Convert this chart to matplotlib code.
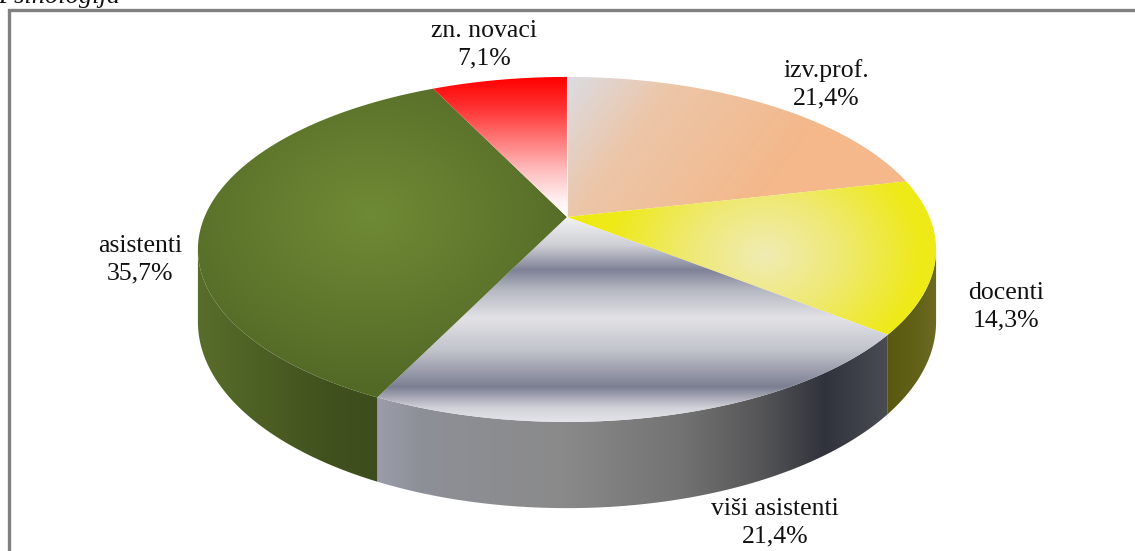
import numpy as np
import matplotlib
matplotlib.use("Agg")
import matplotlib.pyplot as plt
from matplotlib.path import Path
from matplotlib.patches import PathPatch
from matplotlib.colors import to_rgb

# ---------------- data ----------------
title = "Psihologija"
categories = ["izv.prof.", "docenti", "viši asistenti", "asistenti", "zn. novaci"]
shares = [21.4, 14.3, 21.4, 35.7, 7.1]

# ---------------- layout ----------------
W, H = 1135, 551
CX, CY = 567.0, 217.0      # pie centre on screen (px)
A, B = 362.5, 166.4        # horizontal / vertical radii
P = 0.188                  # perspective strength
D = 70.0                   # extrusion depth
label_pos = [(826, 84), (1006, 307), (775, 523), (140, 260), (484, 45)]
FONT = ["Liberation Serif", "DejaVu Serif"]

fig = plt.figure(figsize=(W / 100, H / 100), dpi=100)
ax = fig.add_axes([0, 0, 1, 1])
ax.set_xlim(0, W)
ax.set_ylim(H, 0)
ax.axis("off")


def proj(phi):
    x = np.sin(phi)
    y = -np.cos(phi)
    w = 1 - P * y
    return CX + A * x / w, CY + B * y / w, w


def ramp(v, stops):
    pos = np.array([s[0] for s in stops], float)
    cols = np.array([to_rgb(s[1]) for s in stops])
    out = np.empty(v.shape + (3,))
    for c in range(3):
        out[..., c] = np.interp(v, pos, cols[:, c])
    return out


def grad_fill(xs, ys, func, z):
    verts = np.column_stack([xs, ys])
    path = Path(np.vstack([verts, verts[:1]]), closed=True)
    patch = PathPatch(path, facecolor="none", edgecolor="none", zorder=z)
    ax.add_patch(patch)
    x0, x1 = np.floor(xs.min()) - 1, np.ceil(xs.max()) + 1
    y0, y1 = np.floor(ys.min()) - 1, np.ceil(ys.max()) + 1
    X, Y = np.meshgrid(np.arange(x0, x1) + 0.5, np.arange(y0, y1) + 0.5)
    img = func(X, Y)
    im = ax.imshow(img, extent=(x0, x1, y1, y0), origin="upper",
                   interpolation="bilinear", zorder=z, aspect="auto")
    im.set_clip_path(patch)


# gradient definitions per slice (top face, side face)
def top_izv(X, Y):
    t = ((X - 560) * 0.8 + (Y - 80) * 0.6) / 230.0
    return ramp(t, [(0, "#dadde6"), (0.4, "#ecc6a8"), (1, "#f4b88a")])


def top_doc(X, Y):
    r = np.hypot((X - 765) / 1.3, Y - 255)
    return ramp(r, [(0, "#f0ecb4"), (55, "#efe978"), (120, "#eeea18"), (400, "#eeea00")])


def top_visi(X, Y):
    return ramp(Y, [(217, "#f2f2f4"), (245, "#cfd0d6"), (270, "#7f8297"),
                    (290, "#b6b8c2"), (318, "#e2e2e6"), (350, "#c2c4cc"),
                    (387, "#7c7f92"), (408, "#d2d3da"), (425, "#e8e8ec")])


def top_asis(X, Y):
    r = np.hypot(X - 370, (Y - 215) * 1.3)
    return ramp(r, [(0, "#6f8a36"), (120, "#61792d"), (220, "#536a27"), (400, "#4e6224")])


def top_nov(X, Y):
    return ramp(Y, [(78, "#ff0000"), (110, "#ff3636"), (140, "#ff7a7a"),
                    (170, "#ffbdbd"), (200, "#fff0f0"), (217, "#ffffff")])


def side_doc(X, Y):
    return ramp(X, [(880, "#56560e"), (915, "#616118"), (940, "#6e6c26")])


def side_visi(X, Y):
    return ramp(X, [(378, "#9a9caa"), (420, "#8e9098"), (560, "#8a8a8a"),
                    (680, "#737373"), (760, "#565658"), (825, "#30333c"), (890, "#4b4d54")])


def side_asis(X, Y):
    return ramp(X, [(199, "#586d2b"), (260, "#4d6024"), (330, "#40511e"), (380, "#3d4c1c")])


top_funcs = [top_izv, top_doc, top_visi, top_asis, top_nov]
side_funcs = [None, side_doc, side_visi, side_asis, None]

vals = np.array(shares, float)
bounds = np.concatenate([[0], np.cumsum(vals / vals.sum())]) * 2 * np.pi
phi_r = np.arccos(-P)
phi_l = 2 * np.pi - phi_r

# side faces
for i in range(len(vals)):
    a0, a1 = max(bounds[i], phi_r), min(bounds[i + 1], phi_l)
    if a1 <= a0 or side_funcs[i] is None:
        continue
    ph = np.linspace(a0, a1, 200)
    xt, yt, w = proj(ph)
    yb = yt + D / w
    xs = np.concatenate([xt, xt[::-1]])
    ys = np.concatenate([yt, yb[::-1]])
    grad_fill(xs, ys, side_funcs[i], 2)

# top faces
for i in range(len(vals)):
    ph = np.linspace(bounds[i], bounds[i + 1], 300)
    xa, ya, _ = proj(ph)
    xs = np.concatenate([[CX], xa])
    ys = np.concatenate([[CY], ya])
    grad_fill(xs, ys, top_funcs[i], 3)

# thin light line at 12 o'clock between first and last slice
xe, ye, _ = proj(np.array([0.0]))
ax.plot([CX, xe[0]], [CY, ye[0]], color="#f4f4f4", lw=0.8, zorder=4)

# labels
for (lx, ly), cat, v in zip(label_pos, categories, shares):
    txt = f"{cat}\n" + f"{v:.1f}".replace(".", ",") + "%"
    ax.text(lx, ly, txt, ha="center", va="center", fontsize=18.5,
            family=FONT, color="#111111", linespacing=1.32, zorder=5)

# frame (top and left border)
ax.plot([9, 9, W + 5], [H + 5, 9.5, 9.5], color="#808080", lw=2.4,
        solid_joinstyle="miter", zorder=6, clip_on=False)

# title, mostly cut off at the top (as in the original)
ax.text(-2, 3, title, ha="left", va="baseline", fontsize=19, style="italic",
        family=FONT, color="#111111", zorder=6)

ax.set_xlim(0, W)
ax.set_ylim(H, 0)
fig.savefig("out.png", dpi=100)
